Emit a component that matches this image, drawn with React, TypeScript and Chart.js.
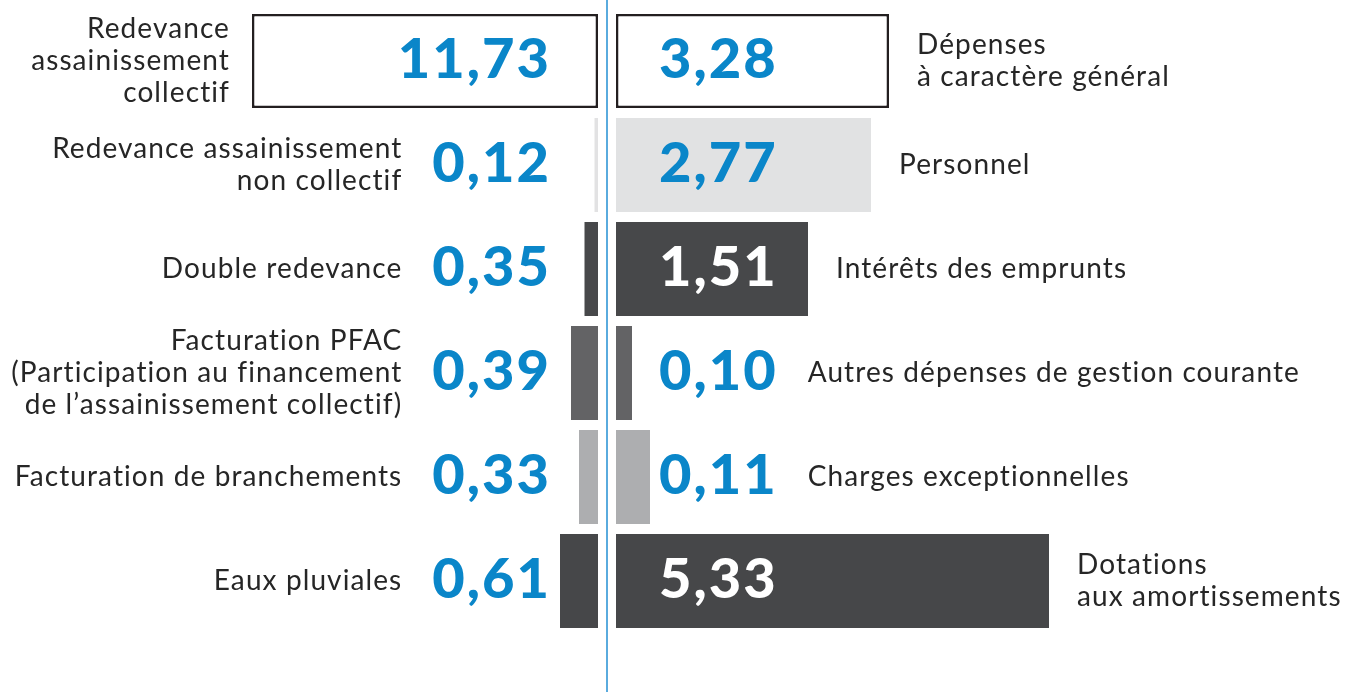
import React, { useEffect, useRef } from "react";
import { Chart, registerables } from "chart.js";

Chart.register(...registerables);

// ---- Data ----
const rowKeys = ["r1", "r2", "r3", "r4", "r5", "r6"];

const revenueLabels = [
  "Redevance\nassainissement\ncollectif",
  "Redevance assainissement\nnon collectif",
  "Double redevance",
  "Facturation PFAC\n(Participation au financement\nde l\u2019assainissement collectif)",
  "Facturation de branchements",
  "Eaux pluviales",
];
const revenueValues = [11.73, 0.12, 0.35, 0.39, 0.33, 0.61];
// drawn bar lengths as read from the infographic (not proportional to values)
const revenueBarLengths = [346, 3.5, 13.5, 27, 19, 38];

const expenseLabels = [
  "Dépenses\nà caractère général",
  "Personnel",
  "Intérêts des emprunts",
  "Autres dépenses de gestion courante",
  "Charges exceptionnelles",
  "Dotations\naux amortissements",
];
const expenseValues = [3.28, 2.77, 1.51, 0.1, 0.11, 5.33];
const expenseBarLengths = [273, 255, 192, 16, 34, 433];

// ---- Styles ----
const BLUE = "#0a86c9";
const LINE_BLUE = "#5aabde";
const TEXT = "#262626";
const revenueColors = ["#ffffff", "#e2e2e3", "#47484a", "#636365", "#adaeb0", "#464749"];
const expenseColors = ["#ffffff", "#e1e2e3", "#47484a", "#636365", "#adaeb0", "#464749"];
const expenseValueColors = [BLUE, BLUE, "#ffffff", BLUE, BLUE, "#ffffff"];
const borderWidths = [2.5, 0, 0, 0, 0, 0];
const GAP = 9;

const fmt = (v: number) => v.toFixed(2).replace(".", ",");

const overlayPlugin = {
  id: "overlay",
  afterDatasetsDraw(chart: any) {
    const ctx = chart.ctx as CanvasRenderingContext2D;
    const xs = chart.scales.x;
    const ys = chart.scales.y;
    const cx = xs.getPixelForValue(0);
    ctx.save();
    // center line
    ctx.strokeStyle = LINE_BLUE;
    ctx.lineWidth = 2;
    ctx.beginPath();
    ctx.moveTo(cx, 0);
    ctx.lineTo(cx, chart.height);
    ctx.stroke();

    const valueFont = "900 56px Lato";
    const labelFont = "400 28px Lato";
    const lineH = 32;

    rowKeys.forEach((_, i) => {
      const yc = ys.getPixelForValue(i);
      // ---- left (revenues) ----
      ctx.font = valueFont;
      (ctx as any).letterSpacing = "2px";
      ctx.textBaseline = "alphabetic";
      ctx.fillStyle = BLUE;
      ctx.textAlign = "right";
      const lv = fmt(revenueValues[i]);
      const lvRight = cx - 56;
      ctx.fillText(lv, lvRight, yc + 17);
      const lvW = ctx.measureText(lv).width;
      const barStart = xs.getPixelForValue(-(GAP + revenueBarLengths[i]));
      const lLabelRight = Math.min(barStart - 22, lvRight - lvW - 30);

      // ---- right (expenses) ----
      ctx.textAlign = "left";
      ctx.fillStyle = expenseValueColors[i];
      const rv = fmt(expenseValues[i]);
      const rvLeft = cx + 52;
      ctx.fillText(rv, rvLeft, yc + 17);
      const rvW = ctx.measureText(rv).width;
      const barEnd = xs.getPixelForValue(GAP + expenseBarLengths[i]);
      const rLabelLeft = barEnd > rvLeft + rvW ? barEnd + 28 : rvLeft + rvW + 30;

      ctx.font = labelFont;
      (ctx as any).letterSpacing = "1.1px";
      ctx.fillStyle = TEXT;

      const ll = revenueLabels[i].split("\n");
      ctx.textAlign = "right";
      ll.forEach((t, k) => {
        ctx.fillText(t, lLabelRight, yc + 9 + (k - (ll.length - 1) / 2) * lineH);
      });
      const rl = expenseLabels[i].split("\n");
      ctx.textAlign = "left";
      rl.forEach((t, k) => {
        ctx.fillText(t, rLabelLeft, yc + 9 + (k - (rl.length - 1) / 2) * lineH);
      });
    });
    ctx.restore();
  },
};

export default function App() {
  const ref = useRef<HTMLCanvasElement | null>(null);
  useEffect(() => {
    if (!ref.current) return;
    const W = 1350;
    const center = 607;
    const chart = new Chart(ref.current, {
      type: "bar",
      data: {
        labels: rowKeys,
        datasets: [
          {
            data: revenueBarLengths.map((l) => [-(GAP + l), -GAP]) as any,
            backgroundColor: revenueColors,
            borderColor: "#231f20",
            borderWidth: borderWidths,
            borderSkipped: false,
          },
          {
            data: expenseBarLengths.map((l) => [GAP, GAP + l]) as any,
            backgroundColor: expenseColors,
            borderColor: "#231f20",
            borderWidth: borderWidths,
            borderSkipped: false,
          },
        ],
      },
      options: {
        indexAxis: "y",
        responsive: false,
        animation: false,
        events: [],
        layout: { padding: { top: 9, bottom: 59, left: 0, right: 0 } },
        datasets: {
          bar: { grouped: false, categoryPercentage: 1, barPercentage: 0.904 },
        } as any,
        plugins: { legend: { display: false }, tooltip: { enabled: false } },
        scales: {
          x: { display: false, min: -center, max: W - center },
          y: { display: false },
        },
      },
      plugins: [overlayPlugin],
    });
    return () => chart.destroy();
  }, []);
  return (
    <div style={{ position: "absolute", left: 0, top: 0, width: 1350, height: 692, background: "#fff" }}>
      <canvas ref={ref} width={1350} height={692} style={{ display: "block" }} />
    </div>
  );
}
